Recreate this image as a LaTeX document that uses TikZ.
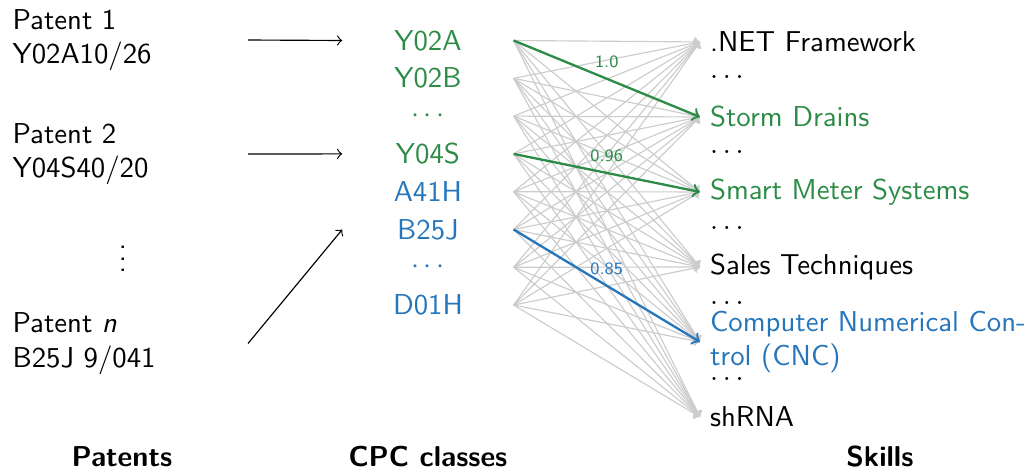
\documentclass[tikz,border=0pt]{standalone}
\usepackage{xcolor}
\usetikzlibrary{calc,positioning,arrows}
\renewcommand{\familydefault}{\sfdefault}

\definecolor{cpcgreen}{RGB}{44,140,70}
\definecolor{cpcblue}{RGB}{38,118,188}

\tikzset{
	patent/.style={anchor=west, align=left, inner sep=0pt, text width=2.87cm},
	cpc/.style={inner sep=0pt, minimum width=2.08cm},
	skill/.style={anchor=west},
	head/.style={font=\bfseries},
	edge/.style={->, gray!40, thin},
	hl/.style={->, thick},
	wlabel/.style={font=\fontsize{6}{7}\selectfont}
}

\begin{document}
\begin{tikzpicture}
	\useasboundingbox (0,0) rectangle (12.6,-5.732);

	% patents
	\node[patent] at (0.147,-0.489) (p1) {Patent 1\\Y02A10/26};
	\node[patent] at (0.147,-1.882) (p2) {Patent 2\\Y04S40/20};
	\node at (1.503,-3.06) (pv) {$\vdots$};
	\node[patent] at (0.147,-4.198) (pn) {Patent \textit{n}\\B25J 9/041};

	% cpc classes
	\node[cpc, text=cpcgreen] at (5.23,-0.495) (y02a) {Y02A};
	\node[cpc, text=cpcgreen] at (5.23,-0.957) (y02b) {Y02B};
	\node[cpc, text=cpcgreen] at (5.23,-1.419) (c1) {$\cdots$};
	\node[cpc, text=cpcgreen] at (5.23,-1.881) (y04s) {Y04S};
	\node[cpc, text=cpcblue] at (5.23,-2.343) (a41h) {A41H};
	\node[cpc, text=cpcblue] at (5.23,-2.805) (b25j) {B25J};
	\node[cpc, text=cpcblue] at (5.23,-3.267) (c2) {$\cdots$};
	\node[cpc, text=cpcblue] at (5.23,-3.728) (d01h) {D01H};

	% skills
	\node[skill] at (8.554,-0.513) (net) {.NET Framework};
	\node[skill] at (8.554,-0.941) (s1) {$\dots$};
	\node[skill, text=cpcgreen] at (8.554,-1.430) (storm) {Storm Drains};
	\node[skill] at (8.554,-1.857) (s2) {$\dots$};
	\node[skill, text=cpcgreen] at (8.554,-2.346) (smart) {Smart Meter Systems};
	\node[skill] at (8.554,-2.786) (s3) {$\dots$};
	\node[skill] at (8.554,-3.263) (sales) {Sales Techniques};
	\node[skill] at (8.554,-3.703) (s4) {$\dots$};
	\node[skill, align=left, text=cpcblue] at (8.554,-4.179) (cnc) {Computer Numerical Con-\\trol (CNC)};
	\node[skill] at (8.554,-4.631) (s5) {$\dots$};
	\node[skill] at (8.554,-5.096) (shrna) {shRNA};

	% column titles
	\node[head] at (1.491,-5.585) (tpat) {Patents};
	\node[head] at (5.230,-5.585) (tcpc) {CPC classes};
	\node[head] at (10.754,-5.585) (tskill) {Skills};

	\draw[->] (p1.east) -- (y02a.west);
	\draw[->] (p2.east) -- (y04s.west);
	\draw[->] (pn.east) -- (b25j.west);

	\foreach \c in {y02a,y02b,c1,y04s,a41h,b25j,c2,d01h}
		\foreach \s in {net,storm,smart,sales,cnc,shrna}
			\draw[edge] (\c.east) -- (\s.west);

	\draw[hl, cpcgreen] (y02a.east) -- node[wlabel, above] {1.0} (storm.west);
	\draw[hl, cpcgreen] (y04s.east) -- node[wlabel, above] {0.96} (smart.west);
	\draw[hl, cpcblue] (b25j.east) -- node[wlabel, above] {0.85} (cnc.west);
\end{tikzpicture}
\end{document}
